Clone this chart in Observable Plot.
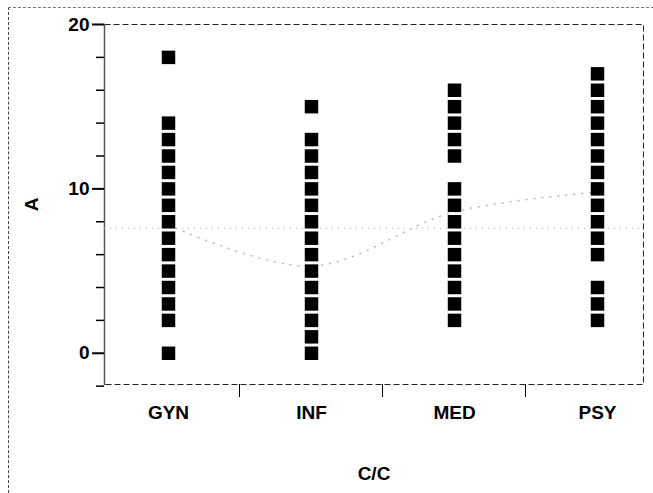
<!DOCTYPE html>
<html>
<head>
<meta charset="utf-8">
<script src="https://cdn.jsdelivr.net/npm/d3@7"></script>
<script src="https://cdn.jsdelivr.net/npm/@observablehq/plot@0.6"></script>
<style>
  html, body { margin: 0; padding: 0; background: #fff; }
  #wrap { position: relative; width: 653px; height: 493px; overflow: hidden; }
  #border { position: absolute; left: 8px; top: 7px; width: 660px; height: 500px;
            border-left: 1.5px dashed #444; border-top: 1px dashed #777; pointer-events: none; }
</style>
</head>
<body>
<div id="wrap"><div id="border"></div></div>
<script>
const categories = ["GYN", "INF", "MED", "PSY"];
const gynValues = [18, 14, 13, 12, 11, 10, 9, 8, 7, 6, 5, 4, 3, 2, 0];
const infValues = [15, 13, 12, 11, 10, 9, 8, 7, 6, 5, 4, 3, 2, 1, 0];
const medValues = [16, 15, 14, 13, 12, 10, 9, 8, 7, 6, 5, 4, 3, 2];
const psyValues = [17, 16, 15, 14, 13, 12, 11, 10, 9, 8, 7, 6, 4, 3, 2];
const majorTicks = [0, 10, 20];
const minorTicks = [-2, 2, 4, 6, 8, 12, 14, 16, 18];
const refLevel = [7.6];
const faintTrend = [7.8, 5.3, 8.6, 9.8];

const seriesByCat = [gynValues, infValues, medValues, psyValues];
const points = categories.flatMap((c, i) => seriesByCat[i].map(v => ({cat: c, v})));
const trend = categories.map((c, i) => ({cat: c, v: faintTrend[i]}));

function betweenTicks(index, scales, values, dimensions) {
  const xs = categories.map(c => scales.x(c));
  const y0 = dimensions.height - dimensions.marginBottom;
  const g = d3.create("svg:g").attr("stroke", "#000").attr("stroke-width", 1);
  for (let i = 0; i < xs.length - 1; i++) {
    const m = (xs[i] + xs[i + 1]) / 2;
    g.append("line").attr("x1", m).attr("x2", m).attr("y1", y0).attr("y2", y0 + 13);
  }
  return g.node();
}

const chart = Plot.plot({
  width: 653,
  height: 493,
  marginLeft: 104,
  marginRight: 10,
  marginTop: 24,
  marginBottom: 109,
  style: {fontFamily: "'Liberation Sans', Arial, sans-serif", fontSize: "19px", color: "#000", background: "#fff"},
  x: {type: "point", domain: categories, padding: 0, insetLeft: 63, insetRight: 45},
  y: {domain: [-1.9, 20]},
  marks: [
    Plot.frame({stroke: "#222", strokeDasharray: "6,3", strokeWidth: 1}),
    Plot.frame({anchor: "left", stroke: "#555", strokeWidth: 1.5}),
    Plot.ruleY(refLevel, {stroke: "#aaa", strokeDasharray: "1,5"}),
    Plot.line(trend, {x: "cat", y: "v", curve: "catmull-rom", stroke: "#bbb", strokeDasharray: "1,7"}),
    Plot.dot(points, {x: "cat", y: "v", symbol: "square", r: 7.6, fill: "#000", stroke: null}),
    Plot.axisY(majorTicks, {tickSize: 12, tickPadding: 3, fontSize: 19, fontWeight: "bold", strokeWidth: 2, label: "A", labelAnchor: "center", labelOffset: 80, labelArrow: "none"}),
    Plot.axisY(minorTicks, {tickSize: 8, strokeWidth: 1.5, text: null, label: null}),
    Plot.axisX({tickSize: 0, tickPadding: 21, fontSize: 19, fontWeight: "bold", label: "C/C", labelAnchor: "center", labelOffset: 95, labelArrow: "none"}),
    betweenTicks
  ]
});
document.getElementById("wrap").prepend(chart);
</script>
</body>
</html>
